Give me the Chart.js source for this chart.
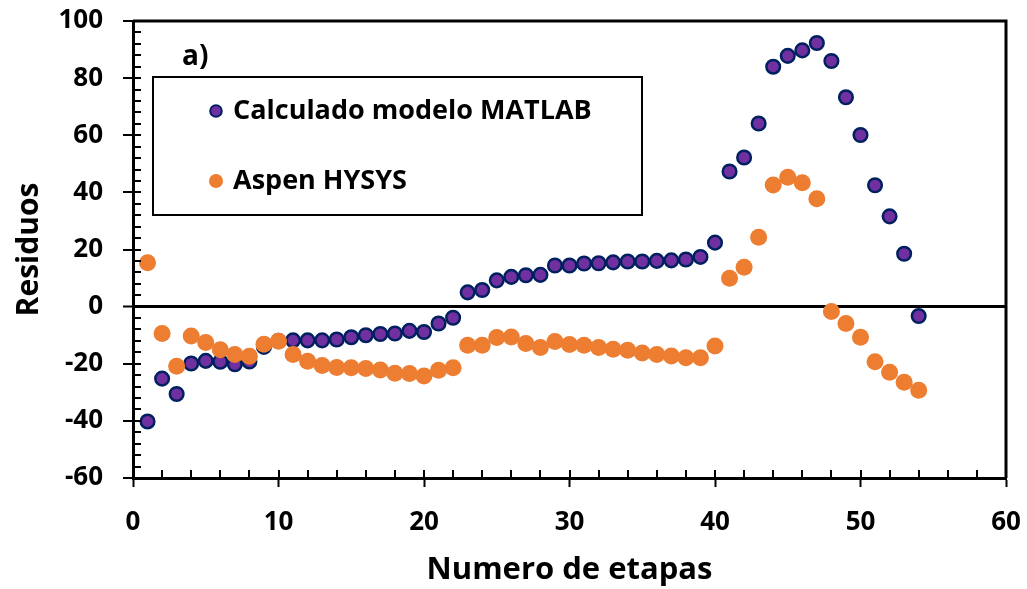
<!DOCTYPE html>
<html>
<head>
<meta charset="utf-8">
<script src="https://cdn.jsdelivr.net/npm/chart.js@4.4.1/dist/chart.umd.min.js"></script>
<style>
  html, body { margin: 0; padding: 0; background: #ffffff; }
  #wrap { width: 1027px; height: 589px; }
</style>
</head>
<body>
<div id="wrap"><canvas id="c" width="1027" height="589"></canvas></div>
<script>
// Stage numbers
const stages = [1, 2, 3, 4, 5, 6, 7, 8, 9, 10, 11, 12, 13, 14, 15, 16, 17, 18, 19, 20,
  21, 22, 23, 24, 25, 26, 27, 28, 29, 30, 31, 32, 33, 34, 35, 36, 37, 38, 39, 40,
  41, 42, 43, 44, 45, 46, 47, 48, 49, 50, 51, 52, 53, 54];

// Residuals computed with the MATLAB model
const matlabResiduals = [-40.2, -25.2, -30.6, -19.9, -19.0, -19.3, -20.2, -19.2, -14.1, -12.0,
  -11.8, -11.8, -11.8, -11.5, -10.7, -10.0, -9.6, -9.4, -8.5, -8.9,
  -5.9, -3.9, 5.0, 5.8, 9.2, 10.4, 11.0, 11.1, 14.4, 14.4,
  15.1, 15.2, 15.5, 15.8, 15.8, 16.0, 16.2, 16.5, 17.4, 22.4,
  47.3, 52.2, 64.1, 84.0, 87.8, 89.7, 92.3, 86.0, 73.3, 60.1,
  42.5, 31.6, 18.5, -3.3];

// Residuals from Aspen HYSYS
const hysysResiduals = [15.4, -9.4, -20.9, -10.3, -12.6, -15.1, -16.8, -17.4, -13.2, -12.1,
  -16.8, -19.1, -20.6, -21.3, -21.4, -21.7, -22.2, -23.3, -23.4, -24.3,
  -22.3, -21.4, -13.5, -13.5, -10.8, -10.6, -12.9, -14.3, -12.2, -13.3,
  -13.5, -14.3, -14.9, -15.3, -16.2, -16.8, -17.3, -17.9, -17.9, -13.8,
  9.9, 13.8, 24.3, 42.6, 45.3, 43.4, 37.8, -1.7, -5.9, -10.7,
  -19.3, -23.0, -26.5, -29.3];

const seriesNames = ['Calculado modelo MATLAB', 'Aspen HYSYS'];
const panelTag = 'a)';
const xTitle = 'Numero de etapas';
const yTitle = 'Residuos';
const xRange = [0, 60];
const yRange = [-60, 100];

const FONT = '"Open Sans", "DejaVu Sans", sans-serif';

function toPoints(xs, ys) {
  return xs.map((x, i) => ({ x: x, y: ys[i] }));
}

// Inner (minor) tick marks, plot frame, panel tag and boxed legend
const decorations = {
  id: 'decorations',
  afterDatasetsDraw(chart) {
    const ctx = chart.ctx;
    const area = chart.chartArea;
    const xs = chart.scales.x, ys = chart.scales.y;
    ctx.save();
    ctx.strokeStyle = '#000';
    ctx.lineWidth = 2;
    ctx.beginPath();
    for (let v = yRange[0]; v <= yRange[1]; v += 4) {
      const py = Math.round(ys.getPixelForValue(v));
      ctx.moveTo(area.left, py);
      ctx.lineTo(area.left + 8, py);
    }
    for (let v = xRange[0]; v <= xRange[1]; v += 2) {
      const px = Math.round(xs.getPixelForValue(v));
      ctx.moveTo(px, area.bottom);
      ctx.lineTo(px, area.bottom - 8);
    }
    ctx.stroke();

    // top and right frame
    ctx.lineWidth = 3;
    ctx.beginPath();
    ctx.moveTo(area.left, area.top);
    ctx.lineTo(area.right, area.top);
    ctx.lineTo(area.right, area.bottom);
    ctx.stroke();

    // panel tag
    ctx.fillStyle = '#000';
    ctx.font = 'bold 28px ' + FONT;
    ctx.textBaseline = 'middle';
    ctx.textAlign = 'left';
    ctx.fillText(panelTag, 182, 57);

    // legend box
    const box = { l: 153, t: 77, r: 642, b: 215 };
    ctx.fillStyle = '#fff';
    ctx.fillRect(box.l, box.t, box.r - box.l, box.b - box.t);
    ctx.lineWidth = 2;
    ctx.strokeStyle = '#000';
    ctx.strokeRect(box.l, box.t, box.r - box.l, box.b - box.t);

    const rows = [111, 181];
    chart.data.datasets.forEach((ds, i) => {
      const cy = rows[i];
      ctx.beginPath();
      ctx.arc(216, cy, ds.legendRadius, 0, Math.PI * 2);
      ctx.fillStyle = ds.backgroundColor;
      ctx.fill();
      if (ds.borderWidth > 0) {
        ctx.lineWidth = 2;
        ctx.strokeStyle = ds.borderColor;
        ctx.stroke();
      }
      ctx.fillStyle = '#000';
      ctx.font = 'bold 27px ' + FONT;
      ctx.textBaseline = 'middle';
      ctx.fillText(ds.label, 233, cy);
    });
    ctx.restore();
  }
};

new Chart(document.getElementById('c'), {
  type: 'scatter',
  data: {
    datasets: [
      {
        label: seriesNames[0],
        data: toPoints(stages, matlabResiduals),
        backgroundColor: '#7030A0',
        borderColor: '#002060',
        borderWidth: 2.5,
        pointRadius: 6.8,
        pointHoverRadius: 6.8,
        legendRadius: 5.8,
        order: 2
      },
      {
        label: seriesNames[1],
        data: toPoints(stages, hysysResiduals),
        backgroundColor: '#ED7D31',
        borderColor: '#ED7D31',
        borderWidth: 0,
        pointRadius: 8.5,
        pointHoverRadius: 8.5,
        legendRadius: 7,
        order: 1
      }
    ]
  },
  options: {
    responsive: false,
    animation: false,
    layout: { padding: { left: 0, right: 21, top: 21, bottom: 0 } },
    plugins: { legend: { display: false }, tooltip: { enabled: false } },
    scales: {
      x: {
        type: 'linear',
        min: xRange[0],
        max: xRange[1],
        afterFit(scale) {
          scale.height = 111;
          scale.paddingLeft = 0;
          scale.paddingRight = 0;
        },
        border: { display: true, color: '#000', width: 3 },
        grid: {
          drawOnChartArea: false,
          drawTicks: true,
          tickLength: 9,
          tickColor: '#000',
          tickWidth: 2,
          color: 'rgba(0,0,0,0)'
        },
        ticks: {
          stepSize: 10,
          color: '#000',
          padding: 20,
          font: { family: FONT, size: 26, weight: 'bold' }
        },
        title: {
          display: true,
          text: xTitle,
          color: '#000',
          font: { family: FONT, size: 31, weight: 'bold', lineHeight: 1.2 },
          padding: { top: 2, bottom: 0 }
        }
      },
      y: {
        type: 'linear',
        min: yRange[0],
        max: yRange[1],
        afterFit(scale) {
          scale.width = 133;
          scale.paddingTop = 0;
          scale.paddingBottom = 0;
        },
        border: { display: true, color: '#000', width: 3 },
        grid: {
          drawOnChartArea: true,
          drawTicks: true,
          tickLength: 10,
          tickColor: '#000',
          tickWidth: 2,
          color: (c) => (c.tick && c.tick.value === 0 ? '#000' : 'rgba(0,0,0,0)'),
          lineWidth: (c) => (c.tick && c.tick.value === 0 ? 3 : 0)
        },
        ticks: {
          stepSize: 20,
          color: '#000',
          padding: 20,
          font: { family: FONT, size: 26, weight: 'bold' }
        },
        title: {
          display: true,
          text: yTitle,
          color: '#000',
          font: { family: FONT, size: 30, weight: 'bold', lineHeight: 1.2 },
          padding: { top: 11, bottom: 0 }
        }
      }
    }
  },
  plugins: [decorations]
});
</script>
</body>
</html>
